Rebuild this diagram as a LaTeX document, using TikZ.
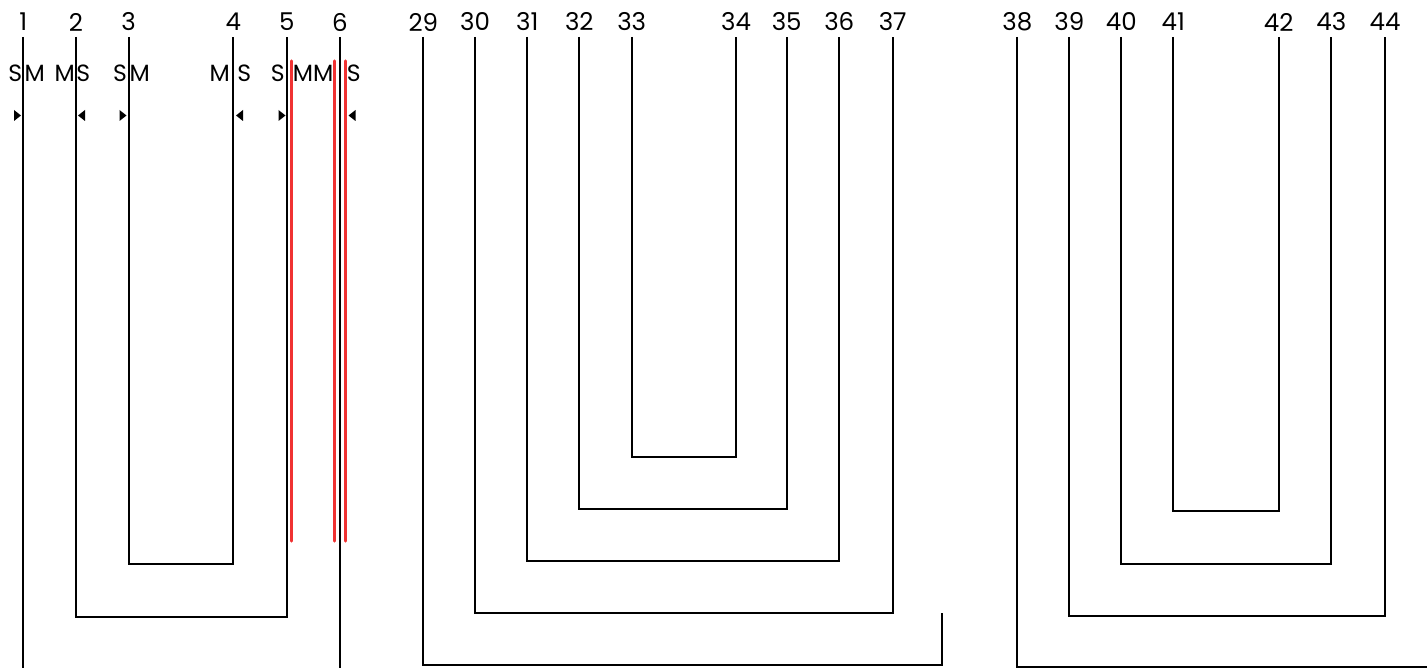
\documentclass[tikz,border=0pt]{standalone}
\usepackage{fontspec}
\setmainfont{Poppins}
\begin{document}
\begin{tikzpicture}[x=1pt,y=-1pt,
  wire/.style={line width=2pt,black},
  redwire/.style={line width=3.2pt,color=redc,line cap=round},
  num/.style={inner sep=0pt,font=\fontsize{24.5}{28}\selectfont},
  lab/.style={inner sep=0pt,font=\fontsize{23.5}{27}\selectfont},
  triR/.pic={\fill[black] (0,-5.5) -- (7,0) -- (0,5.5) -- cycle;},
  triL/.pic={\fill[black] (0,-5.5) -- (-7,0) -- (0,5.5) -- cycle;}]
\definecolor{redc}{RGB}{240,50,50}
\useasboundingbox (0,0) rectangle (1427,668);
% labels and tops
\foreach \n/\x in {1/23.3,2/76,3/128.7,4/233.3,5/286.7,6/340,
  29/423.3,30/475,31/527.3,32/579.3,33/631.7,34/736,35/786.7,36/839.3,37/892.7,
  38/1017.3,39/1069.3,40/1121.3,41/1173.3,42/1278.7,43/1331.3,44/1385}{
  \node[num] (n\n) at (\x,22) {\n};
  \coordinate (t\n) at (\x,37);
}
\coordinate (e1) at (23.3,668);
\coordinate (e6) at (340,668);
\coordinate (r29) at (942,612.5);
\coordinate (e38) at (1427,666.7);
% group 1
\draw[wire] (t1) -- (e1);
\draw[wire] (t6) -- (e6);
\draw[wire] (t3) -- ++(0,527.3) -| (t4);
\draw[wire] (t2) -- ++(0,580) -| (t5);
% red lines
\coordinate (ra1) at (291.3,61); \coordinate (ra2) at (291.3,541);
\coordinate (rb1) at (334.7,61); \coordinate (rb2) at (334.7,541);
\coordinate (rc1) at (345.3,61); \coordinate (rc2) at (345.3,541);
\draw[redwire] (ra1) -- (ra2);
\draw[redwire] (rb1) -- (rb2);
\draw[redwire] (rc1) -- (rc2);
% side labels
\node[lab] (s1) at (15.3,73.3) {S};
\node[lab] (m1) at (34.7,73.3) {M};
\node[lab] (m2) at (64.7,73.3) {M};
\node[lab] (s2) at (83.3,73.3) {S};
\node[lab] (s3) at (120,73.3) {S};
\node[lab] (m3) at (139.7,73.3) {M};
\node[lab] (m4) at (219.7,73.3) {M};
\node[lab] (s4) at (244.3,73.3) {S};
\node[lab] (s5) at (277.7,73.3) {S};
\node[lab] (mm) at (313,73.3) {MM};
\node[lab] (s6) at (353.7,73.3) {S};
% arrowheads
\pic at (14,115.5) {triR};
\pic at (85,115.5) {triL};
\pic at (119.5,115.5) {triR};
\pic at (243,115.5) {triL};
\pic at (278.5,115.5) {triR};
\pic at (355.5,115.5) {triL};
% group 2
\draw[wire] (t33) -- ++(0,419.7) -| (t34);
\draw[wire] (t32) -- ++(0,471.7) -| (t35);
\draw[wire] (t31) -- ++(0,524) -| (t36);
\draw[wire] (t30) -- ++(0,575.7) -| (t37);
\draw[wire] (t29) -- ++(0,628) -| (r29);
% group 3
\draw[wire] (t41) -- ++(0,474.3) -| (t42);
\draw[wire] (t40) -- ++(0,526.7) -| (t43);
\draw[wire] (t39) -- ++(0,578.7) -| (t44);
\draw[wire] (t38) |- (e38);
\end{tikzpicture}
\end{document}
